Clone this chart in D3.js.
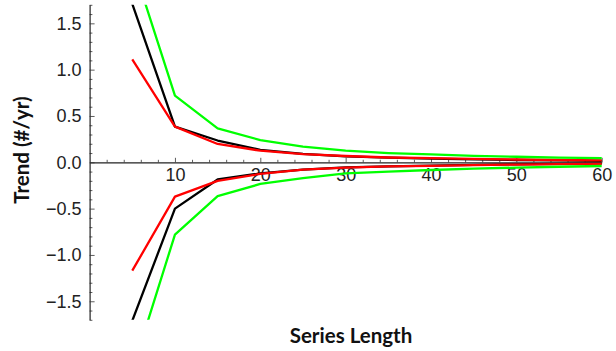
<!DOCTYPE html>
<html lang="en">
<head>
<meta charset="UTF-8">
<script src="https://d3js.org/d3.v7.min.js"></script>
<style>
  body { margin: 0; background: #fff; }
  svg { display: block; }
  .tick text { font-family: "Liberation Sans", Arial, sans-serif; font-size: 18px; fill: #222; }
  .axis-title { font-family: Lato, "Open Sans", sans-serif; font-weight: bold; font-size: 20.5px; fill: #111; }
</style>
</head>
<body>
<div id="plot"></div>
<script>
// series length (x values)
const lengths = [5, 10, 15, 20, 25, 30, 35, 40, 45, 50, 55, 60];

// trend bounds
const blackUpper = [1.71, 0.385, 0.235, 0.135, 0.09, 0.065, 0.05, 0.04, 0.032, 0.025, 0.02, 0.015];
const blackLower = [-1.71, -0.50, -0.185, -0.12, -0.078, -0.055, -0.043, -0.035, -0.028, -0.022, -0.018, -0.014];
const redUpper   = [1.11, 0.385, 0.198, 0.125, 0.088, 0.068, 0.052, 0.045, 0.037, 0.03, 0.025, 0.02];
const redLower   = [-1.17, -0.37, -0.20, -0.125, -0.08, -0.057, -0.045, -0.038, -0.03, -0.025, -0.02, -0.017];
const greenUpper = [2.15, 0.72, 0.367, 0.24, 0.17, 0.125, 0.10, 0.085, 0.07, 0.06, 0.05, 0.045];
const greenLower = [-2.25, -0.78, -0.364, -0.234, -0.17, -0.12, -0.10, -0.083, -0.068, -0.057, -0.048, -0.04];

const xMajor = [10, 20, 30, 40, 50, 60];
const yMajor = [-1.5, -1.0, -0.5, 0.0, 0.5, 1.0, 1.5];

const width = 616, height = 351;

const svg = d3.select("#plot").append("svg")
    .attr("width", width)
    .attr("height", height);

// scales
const x = d3.scaleLinear().domain([0, 60]).range([89.6, 601.7]);
const y = d3.scaleLinear().domain([-1.7, 1.7]).range([319.8, 4.8]);

svg.append("defs").append("clipPath").attr("id", "clip")
  .append("rect")
    .attr("x", 0).attr("y", y(1.7))
    .attr("width", width).attr("height", y(-1.7) - y(1.7));

// minor ticks
const xMinor = d3.range(2, 60, 2).filter(d => d % 10 !== 0);
const yMinor = d3.range(-17, 18).map(d => d / 10).filter(d => Math.abs(Math.round(d * 10)) % 5 !== 0);

svg.append("g")
    .attr("transform", `translate(0, ${y(0)})`)
    .call(d3.axisBottom(x).tickValues(xMinor).tickSize(-2.5).tickFormat(""))
    .call(g => g.select(".domain").remove());

svg.append("g")
    .attr("transform", `translate(${x(0)}, 0)`)
    .call(d3.axisLeft(y).tickValues(yMinor).tickSize(-2.8).tickFormat(""))
    .call(g => g.select(".domain").remove());

// major axes
const xAxisG = svg.append("g")
    .attr("transform", `translate(0, ${y(0)})`)
    .call(d3.axisBottom(x).tickValues(xMajor).tickSize(-4.5).tickPadding(6).tickSizeOuter(0));

const yAxisG = svg.append("g")
    .attr("transform", `translate(${x(0)}, 0)`)
    .call(d3.axisLeft(y).tickValues(yMajor).tickSize(-5).tickPadding(8).tickSizeOuter(0)
      .tickFormat(d => d3.format(".1f")(d).replace("-", "\u2212")));

xAxisG.select(".domain").attr("stroke", "#222").attr("stroke-width", 1.2);
yAxisG.select(".domain").attr("stroke", "#222").attr("stroke-width", 1.2);
svg.selectAll(".tick line").attr("stroke", "#333").attr("stroke-width", 0.8);

// lines
const line = d3.line()
    .x((d, i) => x(lengths[i]))
    .y(d => y(d));

const series = [
  { values: blackUpper, color: "#000000" },
  { values: blackLower, color: "#000000" },
  { values: redUpper,   color: "#ff0000" },
  { values: redLower,   color: "#ff0000" },
  { values: greenUpper, color: "#00ff00" },
  { values: greenLower, color: "#00ff00" }
];

svg.append("g")
    .attr("clip-path", "url(#clip)")
  .selectAll("path")
  .data(series)
  .join("path")
    .attr("fill", "none")
    .attr("stroke", d => d.color)
    .attr("stroke-width", 2.3)
    .attr("stroke-linejoin", "round")
    .attr("d", d => line(d.values));

// axis titles
svg.append("text")
    .attr("class", "axis-title")
    .attr("text-anchor", "middle")
    .attr("transform", "translate(29, 150) rotate(-90)")
    .text("Trend (#/yr)");

svg.append("text")
    .attr("class", "axis-title")
    .attr("text-anchor", "middle")
    .attr("x", 351)
    .attr("y", 343)
    .text("Series Length");
</script>
</body>
</html>
